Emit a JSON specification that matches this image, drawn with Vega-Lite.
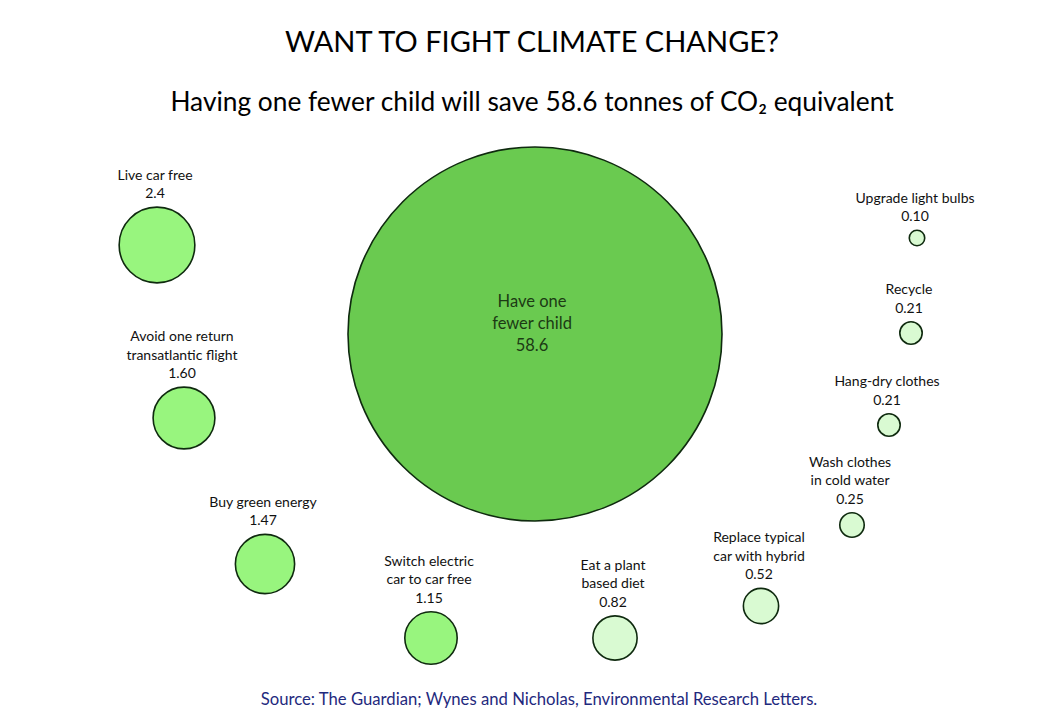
{
  "$schema": "https://vega.github.io/schema/vega-lite/v6.json",
  "width": 1064,
  "height": 598,
  "autosize": {"type": "none"},
  "padding": {"top": 130, "left": 0, "right": 0, "bottom": 0},
  "background": "white",
  "config": {"view": {"stroke": null}, "font": "Lato"},
  "title": {
    "text": "WANT TO FIGHT CLIMATE CHANGE?",
    "subtitle": "Having one fewer child will save 58.6 tonnes of CO₂ equivalent",
    "anchor": "middle",
    "font": "Lato",
    "fontSize": 29,
    "fontWeight": "normal",
    "color": "#000000",
    "subtitleFont": "Lato",
    "subtitleFontSize": 26.3,
    "subtitleColor": "#000000",
    "subtitlePadding": 32,
    "offset": 14
  },
  "data": {
    "values": [
      {"name": "Have one\nfewer child", "shown": "58.6", "value": 58.6, "x": 535, "y": 334},
      {"name": "Live car free", "shown": "2.4", "value": 2.4, "x": 157, "y": 245},
      {"name": "Avoid one return\ntransatlantic flight", "shown": "1.60", "value": 1.60, "x": 184, "y": 418},
      {"name": "Buy green energy", "shown": "1.47", "value": 1.47, "x": 265, "y": 564},
      {"name": "Switch electric\ncar to car free", "shown": "1.15", "value": 1.15, "x": 431, "y": 638},
      {"name": "Eat a plant\nbased diet", "shown": "0.82", "value": 0.82, "x": 615, "y": 638},
      {"name": "Replace typical\ncar with hybrid", "shown": "0.52", "value": 0.52, "x": 761, "y": 606},
      {"name": "Wash clothes\nin cold water", "shown": "0.25", "value": 0.25, "x": 852, "y": 525},
      {"name": "Hang-dry clothes", "shown": "0.21", "value": 0.21, "x": 889, "y": 425},
      {"name": "Recycle", "shown": "0.21", "value": 0.21, "x": 911, "y": 333},
      {"name": "Upgrade light bulbs", "shown": "0.10", "value": 0.10, "x": 917, "y": 238}
    ]
  },
  "transform": [
    {"calculate": "datum.name + '\\n' + datum.shown", "as": "label"},
    {"calculate": "datum.y - 187 * sqrt(datum.value / 58.6) - 6 - (length(split(datum.label, '\\n')) - 1) * 18.5", "as": "labelY"}
  ],
  "layer": [
    {
      "mark": {"type": "point", "shape": "circle", "filled": true, "opacity": 1, "stroke": "#0f2a0f", "strokeWidth": 1.6},
      "encoding": {
        "x": {"field": "x", "type": "quantitative", "scale": {"domain": [0, 1064], "nice": false, "zero": false}, "axis": null},
        "y": {"field": "y", "type": "quantitative", "scale": {"domain": [130, 728], "nice": false, "zero": false, "reverse": true}, "axis": null},
        "size": {"field": "value", "type": "quantitative", "scale": {"domain": [0, 58.6], "range": [0, 139876]}, "legend": null},
        "color": {"field": "value", "type": "quantitative", "scale": {"type": "threshold", "domain": [1, 10], "range": ["#d9fad2", "#98f57e", "#6aca50"]}, "legend": null}
      }
    },
    {
      "transform": [{"filter": "datum.value < 10"}],
      "mark": {"type": "text", "font": "Lato", "fontSize": 14, "lineHeight": 18.5, "lineBreak": "\n", "baseline": "bottom", "align": "center", "dx": -2, "color": "#111111"},
      "encoding": {
        "x": {"field": "x", "type": "quantitative", "scale": {"domain": [0, 1064], "nice": false, "zero": false}, "axis": null},
        "y": {"field": "labelY", "type": "quantitative", "scale": {"domain": [130, 728], "nice": false, "zero": false, "reverse": true}, "axis": null},
        "text": {"field": "label", "type": "nominal"}
      }
    },
    {
      "transform": [{"filter": "datum.value >= 10"}],
      "mark": {"type": "text", "font": "Lato", "fontSize": 16.5, "lineHeight": 22, "lineBreak": "\n", "baseline": "middle", "align": "center", "dx": -3, "dy": -32, "color": "#1c3a14"},
      "encoding": {
        "x": {"field": "x", "type": "quantitative", "scale": {"domain": [0, 1064], "nice": false, "zero": false}, "axis": null},
        "y": {"field": "y", "type": "quantitative", "scale": {"domain": [130, 728], "nice": false, "zero": false, "reverse": true}, "axis": null},
        "text": {"field": "label", "type": "nominal"}
      }
    },
    {
      "data": {"values": [{"note": "Source: The Guardian; Wynes and Nicholas, Environmental Research Letters.", "x": 539, "y": 700}]},
      "mark": {"type": "text", "font": "Lato", "fontSize": 16.7, "baseline": "middle", "align": "center", "color": "#1f2a7e"},
      "encoding": {
        "x": {"field": "x", "type": "quantitative", "scale": {"domain": [0, 1064], "nice": false, "zero": false}, "axis": null},
        "y": {"field": "y", "type": "quantitative", "scale": {"domain": [130, 728], "nice": false, "zero": false, "reverse": true}, "axis": null},
        "text": {"field": "note", "type": "nominal"}
      }
    }
  ]
}
